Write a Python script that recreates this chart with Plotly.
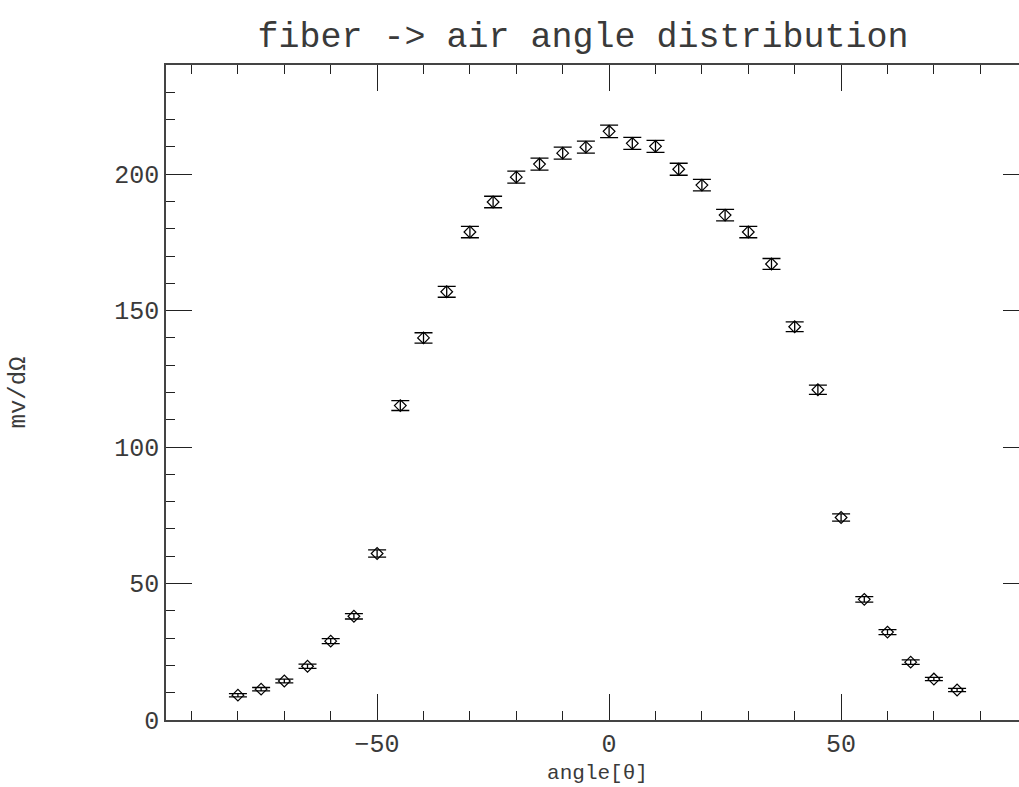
import plotly.graph_objects as go

angles = [-80, -75, -70, -65, -60, -55, -50, -45, -40, -35, -30, -25, -20, -15, -10, -5,
          0, 5, 10, 15, 20, 25, 30, 35, 40, 45, 50, 55, 60, 65, 70, 75]
values = [9.1, 11.3, 14.3, 19.7, 28.9, 38.0, 61.0, 115.2, 140.0, 156.9, 178.8, 189.8,
          198.9, 203.7, 207.7, 209.9, 215.7, 211.3, 210.2, 201.8, 196.0, 185.0, 178.8,
          167.1, 144.1, 121.0, 74.2, 44.2, 32.2, 21.2, 15.0, 11.0]
errors = [0.6, 0.6, 0.7, 0.8, 0.9, 1.0, 1.3, 1.8, 1.9, 2.0, 2.1, 2.1, 2.2, 2.2, 2.2, 2.2,
          2.3, 2.2, 2.2, 2.2, 2.1, 2.1, 2.1, 2.0, 1.8, 1.7, 1.3, 1.0, 0.9, 0.8, 0.6, 0.6]

title_text = "fiber -> air angle distribution"
x_title = "angle[θ]"
y_title = "mv/dΩ"

FONT = "Liberation Mono"
TXT = "#3a3a3a"

fig = go.Figure()
fig.add_trace(go.Scatter(
    x=angles, y=values, mode="markers",
    marker=dict(symbol="diamond-open", size=9, color="black", line=dict(width=1.2, color="black")),
    error_y=dict(type="data", array=errors, visible=True, color="black", thickness=1.3, width=9),
    showlegend=False,
))

axis_common = dict(
    showline=True, linecolor="#444444", linewidth=1.5, mirror="allticks",
    ticks="inside", ticklen=26, tickwidth=1.3, tickcolor="#222222",
    showgrid=False, zeroline=False,
    tickfont=dict(family=FONT, size=25, color=TXT),
)

fig.update_xaxes(
    range=[-95.5, 90.5], tickmode="linear", tick0=0, dtick=50,
    minor=dict(ticks="inside", ticklen=9, tickwidth=1.3, tickcolor="#222222", dtick=10, tick0=0, showgrid=False),
    title_text=x_title, title_standoff=6,
    title_font=dict(family=FONT, size=21, color=TXT),
    **axis_common,
)
fig.update_yaxes(
    range=[0, 240], tickmode="linear", tick0=0, dtick=50,
    minor=dict(ticks="inside", ticklen=9, tickwidth=1.3, tickcolor="#222222", dtick=10, tick0=0, showgrid=False),
    title_text=y_title, title_standoff=82,
    title_font=dict(family=FONT, size=24, color=TXT),
    **axis_common,
)

fig.update_layout(
    width=1031, height=787,
    margin=dict(l=166, r=2, t=65, b=67, autoexpand=False),
    paper_bgcolor="white", plot_bgcolor="white",
    title=dict(text=title_text, x=583 / 1031, xref="container", xanchor="center",
               y=1 - 35 / 787, yref="container", yanchor="middle",
               font=dict(family=FONT, size=35, color=TXT)),
)

fig.write_html("out.html", post_script="document.body.style.margin='0';document.body.style.overflow='hidden';")
